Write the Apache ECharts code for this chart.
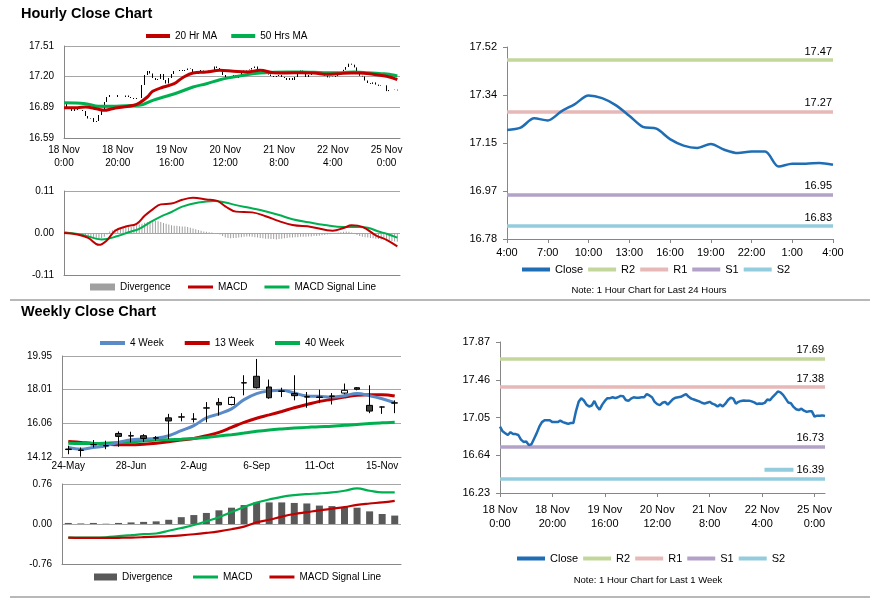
<!DOCTYPE html>
<html><head><meta charset="utf-8">
<script src="https://cdn.jsdelivr.net/npm/echarts@6/dist/echarts.min.js"></script>
<style>html,body{margin:0;padding:0;background:#fff}#c{width:873px;height:601px}</style>
</head><body><div id="c"></div>
<script>
// ===== Hourly data: 18 Nov 0:00 -> 25 Nov 4:00 =====
const hourDays = ['18 Nov','19 Nov','20 Nov','21 Nov','22 Nov','25 Nov'];
const closeFirst100 = [
 16.95,16.90,16.88,16.86,16.89,16.87,16.87,16.86,16.81,16.785,
 16.79,16.75,16.76,16.82,16.88,16.95,17.00,17.02,17.02,17.02,
 17.00,17.00,17.00,17.015,17.00,16.99,16.98,16.99,16.99,17.12,
 17.22,17.26,17.235,17.19,17.17,17.18,17.23,17.17,17.135,17.19,
 17.23,17.26,17.26,17.27,17.26,17.27,17.285,17.28,17.24,17.23,
 17.255,17.27,17.265,17.265,17.27,17.27,17.305,17.29,17.27,17.22,
 17.195,17.185,17.21,17.22,17.19,17.22,17.25,17.265,17.27,17.275,
 17.29,17.305,17.275,17.255,17.245,17.235,17.225,17.21,17.20,17.21,
 17.22,17.20,17.19,17.17,17.19,17.17,17.20,17.24,17.265,17.255,
 17.20,17.22,17.23,17.235,17.233,17.233,17.225,17.214,17.196,17.203
];
// last 24 hours (22 Nov 4:00 -> 25 Nov 4:00)
const hours24 = ['4:00','5:00','6:00','7:00','8:00','9:00','10:00','11:00','12:00','13:00','14:00','15:00','16:00','17:00','18:00','19:00','20:00','21:00','22:00','23:00','0:00','1:00','2:00','3:00','4:00'];
const close24 = [17.20,17.209,17.245,17.237,17.272,17.30,17.333,17.323,17.296,17.255,17.212,17.205,17.165,17.14,17.131,17.146,17.124,17.111,17.117,17.117,17.059,17.07,17.07,17.073,17.066];

const ma20H = [[0,16.893],[5,16.893],[8,16.90],[12,16.883],[15,16.867],[18,16.883],[22,16.90],[26,16.917],[28,16.94],[31,17.0],[33,17.057],[37,17.10],[41,17.133],[44,17.19],[48,17.24],[53,17.25],[58,17.267],[63,17.257],[68,17.25],[73,17.267],[78,17.243],[83,17.24],[88,17.243],[93,17.24],[98,17.227],[102,17.233],[107,17.24],[110,17.24],[115,17.227],[120,17.207],[124,17.173]];
const ma50H = [[0,16.943],[8,16.933],[13,16.907],[18,16.907],[23,16.913],[28,16.917],[33,16.967],[38,17.007],[43,17.05],[48,17.10],[53,17.133],[58,17.173],[63,17.20],[68,17.223],[73,17.24],[78,17.247],[83,17.25],[88,17.25],[93,17.247],[98,17.243],[103,17.243],[108,17.25],[113,17.243],[118,17.233],[121,17.227],[124,17.21]];

const macdH = [[0,0],[5,-0.004],[9,-0.013],[13,-0.031],[16,-0.019],[19,0.006],[23,0.017],[27,0.024],[30,0.045],[33,0.062],[36,0.075],[40,0.077],[44,0.087],[48,0.092],[53,0.088],[57,0.084],[60,0.07],[64,0.056],[70,0.054],[75,0.044],[80,0.031],[85,0.021],[92,0.016],[100,0.006],[104,0.013],[107,0.02],[111,0.016],[116,-0.006],[120,-0.018],[124,-0.035]];
const sigH = [[0,0.002],[7,-0.005],[14,-0.017],[20,-0.008],[24,0.002],[28,0.011],[32,0.028],[36,0.043],[40,0.055],[44,0.069],[50,0.08],[56,0.084],[60,0.08],[64,0.073],[69,0.066],[73,0.06],[80,0.047],[85,0.036],[91,0.028],[97,0.021],[104,0.016],[110,0.016],[113,0.014],[117,0.004],[120,-0.002],[124,-0.012]];
const divH = [
 0,-0.001,-0.002,-0.002,-0.003,-0.004,-0.005,-0.006,-0.008,-0.010,
 -0.012,-0.014,-0.015,-0.015,-0.014,-0.010,-0.004,0.004,0.007,0.010,
 0.012,0.013,0.014,0.015,0.015,0.016,0.018,0.020,0.022,0.024,
 0.027,0.029,0.031,0.033,0.032,0.031,0.029,0.026,0.024,0.022,
 0.020,0.019,0.019,0.018,0.017,0.017,0.016,0.014,0.012,0.010,
 0.008,0.006,0.004,0.003,0.002,0.001,0.000,-0.002,-0.004,-0.008,
 -0.012,-0.013,-0.014,-0.013,-0.013,-0.012,-0.011,-0.010,-0.009,-0.009,
 -0.010,-0.011,-0.012,-0.013,-0.014,-0.015,-0.015,-0.016,-0.016,-0.017,
 -0.016,-0.015,-0.014,-0.013,-0.012,-0.012,-0.011,-0.011,-0.010,-0.010,
 -0.010,-0.009,-0.009,-0.008,-0.008,-0.007,-0.006,-0.005,-0.004,-0.003,
 -0.002,-0.001,0.001,0.002,0.003,0.004,0.003,0.001,-0.002,-0.005,
 -0.008,-0.010,-0.011,-0.012,-0.013,-0.014,-0.015,-0.016,-0.017,-0.018,
 -0.019,-0.020,-0.021,-0.022,-0.023
];

// ===== Weekly data =====
const weeks = ['24-May','31-May','7-Jun','14-Jun','21-Jun','28-Jun','5-Jul','12-Jul','19-Jul','26-Jul','2-Aug','9-Aug','16-Aug','23-Aug','30-Aug','6-Sep','13-Sep','20-Sep','27-Sep','4-Oct','11-Oct','18-Oct','25-Oct','1-Nov','8-Nov','15-Nov','22-Nov'];
const wOpen  = [14.55,14.52,14.82,14.76,15.48,15.33,15.35,15.21,16.38,16.42,16.30,16.94,17.27,17.15,18.39,18.78,18.16,17.91,17.78,17.58,17.58,17.62,17.81,18.12,17.10,17.00,17.23];
const wClose = [14.58,14.50,14.84,14.78,15.31,15.35,15.19,15.23,16.20,16.44,16.31,16.96,17.13,17.56,18.41,18.12,17.54,17.93,17.66,17.60,17.56,17.64,17.97,18.03,16.77,17.01,17.25];
const wLow   = [14.28,14.14,14.67,14.57,14.71,14.96,14.99,15.06,15.15,16.18,16.11,16.12,16.51,17.10,17.68,18.07,17.48,17.58,17.39,16.96,17.23,17.15,17.74,17.97,16.65,16.61,16.65];
const wHigh  = [14.77,14.67,15.10,15.06,15.60,15.58,15.44,15.33,16.61,16.65,16.65,17.29,17.52,17.62,18.84,19.78,18.59,18.12,18.84,17.87,18.01,17.81,18.36,18.16,18.26,17.04,17.39];
const ma4W  = [14.67,14.57,14.67,14.77,14.96,15.12,15.15,15.21,15.35,15.64,15.93,16.38,16.61,16.90,17.43,17.78,17.93,17.97,17.81,17.64,17.62,17.58,17.66,17.78,17.66,17.48,17.25];
const ma13W = [15.02,14.96,14.90,14.86,14.82,14.82,14.86,14.92,15.00,15.10,15.19,15.35,15.54,15.83,16.12,16.36,16.55,16.75,16.96,17.15,17.33,17.45,17.58,17.68,17.72,17.72,17.64];
const ma40W = [14.92,14.90,14.90,14.92,14.96,15.00,15.04,15.10,15.12,15.15,15.19,15.25,15.33,15.41,15.50,15.60,15.68,15.74,15.79,15.83,15.87,15.89,15.95,15.99,16.05,16.09,16.12];
const divW  = [0.02,0.01,0.02,0.005,0.02,0.03,0.04,0.05,0.08,0.13,0.17,0.21,0.26,0.31,0.36,0.41,0.41,0.41,0.40,0.39,0.35,0.34,0.32,0.31,0.24,0.19,0.16];
const macdW = [-0.258,-0.258,-0.258,-0.252,-0.232,-0.213,-0.194,-0.181,-0.129,-0.077,-0.019,0.052,0.129,0.226,0.323,0.406,0.465,0.516,0.548,0.568,0.581,0.60,0.632,0.677,0.632,0.60,0.60];
const sigW  = [-0.26,-0.265,-0.265,-0.265,-0.262,-0.258,-0.25,-0.24,-0.23,-0.215,-0.195,-0.17,-0.14,-0.10,-0.05,0.03,0.08,0.14,0.19,0.225,0.26,0.29,0.32,0.365,0.39,0.41,0.44];

// ===== Pivot levels =====
const levelNames = ['R2','R1','S1','S2'];
const levelColors = ['#C3D69B','#E6B9B8','#B3A2C7','#93CDDD'];
const levels24 = [17.47,17.27,16.95,16.83];
const levelsWk = [17.69,17.38,16.73,16.39];

// ===== Axis tick labels =====
const yT1 = [16.59,16.8967,17.2033,17.51], yL1 = ['16.59','16.89','17.20','17.51'];
const yT2 = [-0.11,0,0.11], yL2 = ['-0.11','0.00','0.11'];
const yT3 = [16.78,16.965,17.15,17.335,17.52], yL3 = ['16.78','16.97','17.15','17.34','17.52'];
const yT4 = [14.12,16.0633,18.0067,19.95], yL4 = ['14.12','16.06','18.01','19.95'];
const yT5 = [-0.76,0,0.76], yL5 = ['-0.76','0.00','0.76'];
const yT6 = [16.23,16.64,17.05,17.46,17.87], yL6 = ['16.23','16.64','17.05','17.46','17.87'];

// ---- build ----
const closeH = closeFirst100.concat(close24);
const hourCats = [];
for (let i = 0; i < 126; i++) hourCats.push(hourDays[Math.floor(i/24)] + '\n' + (i % 24) + ':00');
const hourOHLC = closeH.map((c, i) => { const o = i === 0 ? c : closeH[i-1]; return [o, c, Math.min(o,c), Math.max(o,c)]; });
const wOHLC = weeks.map((_, i) => [wOpen[i], wClose[i], wLow[i], wHigh[i]]);

const FONT = 'Liberation Sans, Arial, sans-serif';
const AX = '#868686', GRID = '#A6A6A6';
const disp = {hDiv:'Divergence', hMacd:'MACD', hSig:'MACD Signal Line', wDiv:'Divergence', wMacd:'MACD', wSig:'MACD Signal Line',
  Close24:'Close', CloseWk:'Close'};
levelNames.forEach(n => { disp[n+'d'] = n; disp[n+'w'] = n; });

function fmt(t, l) { return v => { for (let i = 0; i < t.length; i++) if (Math.abs(t[i]-v) < 1e-6) return l[i]; return ''; }; }
function yAx(gi, t, l, fs, split, useInterval) {
  const a = {type:'value', gridIndex:gi, min:t[0], max:t[t.length-1],
    axisLine:{show:true, lineStyle:{color:AX}},
    axisTick:{show:!split, length:4, lineStyle:{color:AX}},
    axisLabel:{fontSize:fs, color:'#000', margin:10, formatter:fmt(t,l)},
    splitLine:{show:split, lineStyle:{color:GRID}}};
  if (useInterval) a.interval = t[1]-t[0];
  else { a.axisLabel.customValues = t; a.axisTick.customValues = t; }
  return a;
}
function catAx(gi, data, extra) {
  return Object.assign({type:'category', gridIndex:gi, data:data,
    axisLine:{onZero:false, lineStyle:{color:AX}}, axisTick:{show:false}}, extra);
}
function lineS(name, xi, yi, data, color, w, smooth, z) {
  return {name, type:'line', xAxisIndex:xi, yAxisIndex:yi, data, showSymbol:false, smooth:smooth,
    lineStyle:{color, width:w}, itemStyle:{color}, z:z||3, silent:true, animation:false};
}
function levelS(name, xi, yi, value, color, rich) {
  const label = {show:true, position:'insideEndTop', color:'#000', fontSize:11, distance:[1,3],
    formatter: value.toFixed(2)};
  if (rich) { label.formatter = '{b|}{t|' + value.toFixed(2) + '}';
    label.rich = {b:{backgroundColor:color, width:29, height:4}, t:{fontSize:11, color:'#000', padding:[0,0,0,3]}}; }
  return {name, type:'line', xAxisIndex:xi, yAxisIndex:yi, data:[], itemStyle:{color}, lineStyle:{color}, z:2,
    markLine:{silent:true, symbol:'none', animation:false, lineStyle:{color, width:3.5, type:'solid'},
      label, emphasis:{disabled:true}, data:[{yAxis:value}]}};
}
function legend(names, left, top, iw, ih, fs, gap) {
  return {data:names, left, top, padding:0, icon:'rect', itemWidth:iw, itemHeight:ih, itemGap:gap,
    selectedMode:false, formatter: n => disp[n] || n, textStyle:{fontSize:fs, color:'#000', fontFamily:FONT}};
}

const series = [
  {name:'hCandle', type:'candlestick', xAxisIndex:0, yAxisIndex:0, data:hourOHLC, barWidth:1, barMaxWidth:1,
    itemStyle:{color:'#000', color0:'#000', borderColor:'#000', borderColor0:'#000', borderWidth:1}, silent:true},
  lineS('20 Hr MA', 1, 0, ma20H, '#C00000', 3, 0.4, 4),
  lineS('50 Hrs MA', 1, 0, ma50H, '#00B050', 3, 0.4, 3),
  {name:'hDiv', type:'bar', xAxisIndex:2, yAxisIndex:1, data:divH, barWidth:1, itemStyle:{color:'#A0A0A0'}, silent:true},
  lineS('hMacd', 3, 1, macdH, '#C00000', 2, 0.4, 4),
  lineS('hSig', 3, 1, sigH, '#00B050', 2, 0.4, 3),
  lineS('Close24', 4, 2, close24, '#1F6DB5', 2.5, 0.3, 5),
  {name:'wCandle', type:'candlestick', xAxisIndex:5, yAxisIndex:3, data:wOHLC, barWidth:6,
    itemStyle:{color:'#fff', color0:'#404040', borderColor:'#000', borderColor0:'#000', borderWidth:1}, silent:true, z:5},
  lineS('4 Week', 5, 3, ma4W, '#5B8BC6', 3, 0.4, 4),
  lineS('13 Week', 5, 3, ma13W, '#C00000', 3, 0.4, 3),
  lineS('40 Week', 5, 3, ma40W, '#00B050', 3, 0.4, 3),
  {name:'wDiv', type:'bar', xAxisIndex:6, yAxisIndex:4, data:divW, barWidth:7, itemStyle:{color:'#595959'}, silent:true},
  lineS('wMacd', 6, 4, macdW, '#00B050', 2.2, 0.4, 4),
  lineS('wSig', 6, 4, sigW, '#C00000', 2.2, 0.4, 4),
  lineS('CloseWk', 7, 5, closeH.slice(0,125), '#1F6DB5', 2.5, false, 5)
];
levelNames.forEach((n, i) => series.push(levelS(n+'d', 4, 2, levels24[i], levelColors[i], false)));
levelNames.forEach((n, i) => series.push(levelS(n+'w', 7, 5, levelsWk[i], levelColors[i], n === 'S2')));

const option = {
  animation:false,
  textStyle:{fontFamily:FONT},
  grid:[
    {left:64, top:46, width:336, height:92},
    {left:64, top:191, width:336, height:84},
    {left:507, top:47, width:326, height:192},
    {left:62, top:356, width:339, height:101},
    {left:62, top:484, width:339, height:80},
    {left:500, top:342, width:325, height:151}
  ],
  xAxis:[
    catAx(0, hourCats, {boundaryGap:false, axisLabel:{interval:19, fontSize:10, color:'#000', lineHeight:13, margin:6}}),
    {type:'value', gridIndex:0, min:0, max:125, show:false},
    catAx(1, hourCats, {boundaryGap:false, axisLabel:{show:false}}),
    {type:'value', gridIndex:1, min:0, max:125, show:false},
    catAx(2, hours24, {boundaryGap:false, axisTick:{show:true, interval:2, length:4, lineStyle:{color:AX}}, axisLabel:{interval:2, fontSize:11, color:'#000', margin:8}}),
    catAx(3, weeks, {boundaryGap:true, axisLabel:{interval:4, fontSize:10, color:'#000', margin:4}}),
    catAx(4, weeks, {boundaryGap:true, axisLabel:{show:false}}),
    catAx(5, hourCats.slice(0,125), {boundaryGap:false, axisTick:{show:true, interval:19, length:4, lineStyle:{color:AX}}, axisLabel:{interval:19, fontSize:11, color:'#000', lineHeight:14, margin:10}})
  ],
  yAxis:[
    yAx(0, yT1, yL1, 10, true, false),
    yAx(1, yT2, yL2, 10, true, true),
    yAx(2, yT3, yL3, 11, false, false),
    yAx(3, yT4, yL4, 10, true, false),
    yAx(4, yT5, yL5, 10, true, true),
    yAx(5, yT6, yL6, 11, false, false)
  ],
  legend:[
    legend(['20 Hr MA','50 Hrs MA'], 146, 31, 24, 4, 10, 14),
    legend(['hDiv'], 90, 282, 25, 7, 10, 17),
    legend(['hMacd','hSig'], 188, 282, 25, 3, 10, 17),
    legend(['Close24','R2d','R1d','S1d','S2d'], 522, 264, 28, 4, 11, 5),
    legend(['4 Week','13 Week','40 Week'], 100, 338, 25, 4, 10, 21),
    legend(['wDiv'], 94, 572, 23, 7, 10, 17),
    legend(['wMacd','wSig'], 193, 572, 25, 3, 10, 17),
    legend(['CloseWk','R2w','R1w','S1w','S2w'], 517, 553, 28, 4, 11, 5)
  ],
  graphic:[
    {type:'text', x:21, y:14, style:{text:'Hourly Close Chart', font:'bold 14.5px ' + FONT, fill:'#000', verticalAlign:'middle'}},
    {type:'text', x:21, y:312, style:{text:'Weekly Close Chart', font:'bold 14.5px ' + FONT, fill:'#000', verticalAlign:'middle'}},
    {type:'line', shape:{x1:10, y1:300, x2:870, y2:300}, style:{stroke:'#A0A0A0', lineWidth:1.5}},
    {type:'line', shape:{x1:10, y1:597, x2:870, y2:597}, style:{stroke:'#A0A0A0', lineWidth:1.5}},
    {type:'text', x:649, y:290, style:{text:'Note: 1 Hour Chart for Last 24 Hours', font:'9.5px ' + FONT, fill:'#000', align:'center', verticalAlign:'middle'}},
    {type:'text', x:648, y:580, style:{text:'Note: 1 Hour Chart for Last 1 Week', font:'9.5px ' + FONT, fill:'#000', align:'center', verticalAlign:'middle'}}
  ],
  series
};
const chart = echarts.init(document.getElementById('c'), null, {renderer:'canvas'});
chart.setOption(option);
</script></body></html>
